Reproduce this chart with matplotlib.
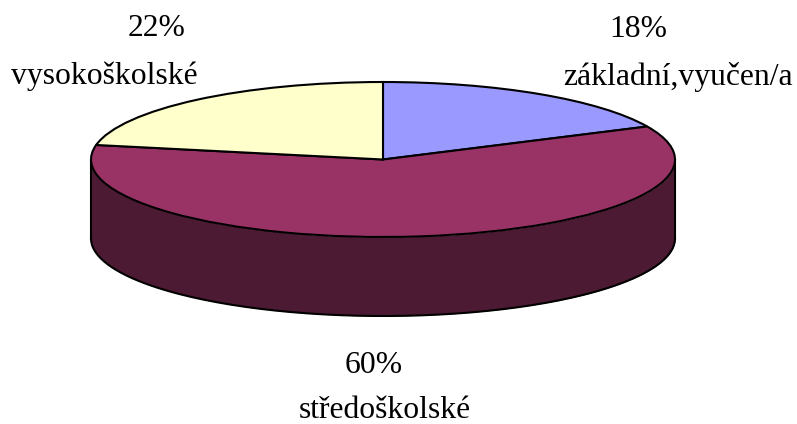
import numpy as np
import matplotlib
matplotlib.use("Agg")
import matplotlib.pyplot as plt

labels = ["základní,vyučen/a", "středoškolské", "vysokoškolské"]
values = [18, 60, 22]
colors = ["#9999FF", "#993366", "#FFFFCC"]
dark_colors = ["#4D4D80", "#4D1A33", "#808066"]

W, H = 797, 424
# pixel size of the ellipse, pie centre and the height of the rim
cx, cy = 383, 159.5
rx, ry = 292, 77.5
depth = 79

fig = plt.figure(figsize=(W / 100, H / 100), dpi=100, facecolor="white")
ax = fig.add_axes([0, 0, 1, 1])

# Top of the pie, squashed by giving the axes limits that differ per direction
ax.pie(values, colors=colors, startangle=90, counterclock=False,
       wedgeprops=dict(edgecolor="black", linewidth=1.5))
ax.set_aspect("auto")
ax.set_xlim(-cx / rx, (W - cx) / rx)
ax.set_ylim(-(H - cy) / ry, cy / ry)

# Rim: only the front half of each slice shows
d = depth / ry
start = 90.0
for val, col in zip(values, dark_colors):
    end = start - val * 3.6
    t = np.radians(np.linspace(start, end, 200))
    keep = np.sin(t) <= 0
    if keep.any():
        ax.fill_between(np.cos(t[keep]), np.sin(t[keep]) - d, np.sin(t[keep]),
                        color=col, linewidth=0, zorder=0.5)
        ax.plot(np.cos(t[keep]), np.sin(t[keep]) - d, color="black", lw=1.5, zorder=0.6)
    start = end
for sx in (-1, 1):
    ax.plot([sx, sx], [0, -d], color="black", lw=1.5, zorder=0.6)

def px(x, y):
    return (x - cx) / rx, (cy - y) / ry

font = dict(family="Liberation Serif", fontsize=22.8, ha="center", va="baseline", color="black")
ax.text(*px(638.5, 37), f"{values[0]}%", **font)
ax.text(*px(678, 85), labels[0], **font)
ax.text(*px(374, 373), f"{values[1]}%", **font)
ax.text(*px(384.5, 418.5), labels[1], **font)
ax.text(*px(157, 36), f"{values[2]}%", **font)
ax.text(*px(104.5, 84), labels[2], **font)

fig.savefig("out.png", dpi=100, facecolor="white")
